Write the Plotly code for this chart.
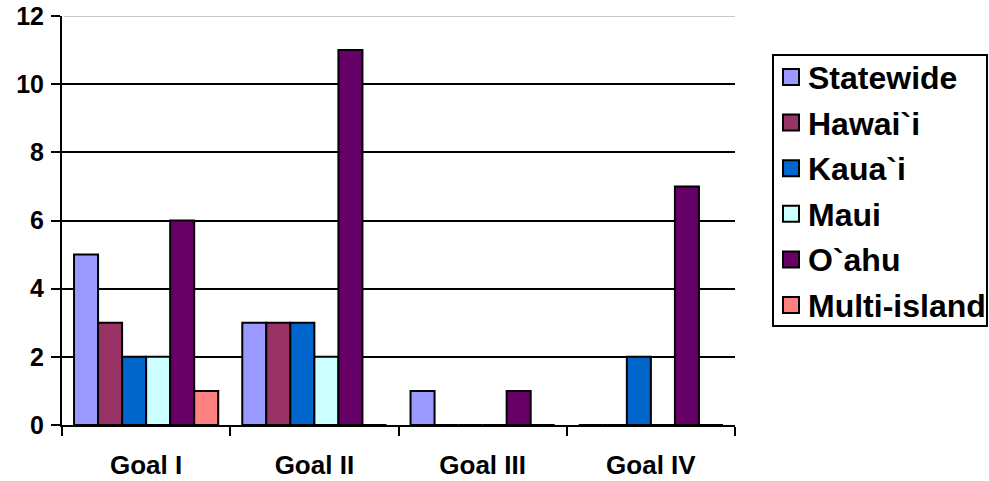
import plotly.graph_objects as go

goals = ["Goal I", "Goal II", "Goal III", "Goal IV"]
series_names = ["Statewide", "Hawai`i", "Kaua`i", "Maui", "O`ahu", "Multi-island"]
statewide = [5, 3, 1, 0]
hawaii = [3, 3, 0, 0]
kauai = [2, 3, 0, 2]
maui = [2, 2, 0, 0]
oahu = [6, 11, 1, 7]
multi_island = [1, 0, 0, 0]
y_ticks = [0, 2, 4, 6, 8, 10, 12]

series_values = [statewide, hawaii, kauai, maui, oahu, multi_island]
colors = ["#9999FF", "#993366", "#0066CC", "#CCFFFF", "#660066", "#FF8080"]

FONT = "Liberation Sans, Arial, sans-serif"

# plot area geometry in pixels
W, H = 989, 481
L, R, T, B = 62, 254, 16, 56
PW, PH = W - L - R, H - T - B


def px_x(px):
    return (px - L) / PW


def px_y(py):
    return (H - B - py) / PH


fig = go.Figure()
for name, vals, col in zip(series_names, series_values, colors):
    fig.add_trace(go.Bar(
        name=name, x=goals, y=vals, showlegend=False,
        marker=dict(color=col, line=dict(color="black", width=2)),
    ))

# boxed legend at the right
shapes = [dict(
    type="rect", xref="paper", yref="paper",
    x0=px_x(773), x1=px_x(987), y0=px_y(326), y1=px_y(55),
    line=dict(color="black", width=2), fillcolor="white", layer="above",
)]
annotations = []
row0, step = 77, 45.6
for i, (name, col) in enumerate(zip(series_names, colors)):
    cy = row0 + i * step
    shapes.append(dict(
        type="rect", xref="paper", yref="paper",
        x0=px_x(783), x1=px_x(799), y0=px_y(cy + 8), y1=px_y(cy - 8),
        line=dict(color="black", width=2), fillcolor=col, layer="above",
    ))
    annotations.append(dict(
        xref="paper", yref="paper", x=px_x(806), y=px_y(cy + 1),
        xanchor="left", yanchor="middle", showarrow=False, text=name,
        font=dict(family=FONT, size=32, color="black", weight="bold"),
    ))

# top gridline at 12 is drawn light grey
shapes.append(dict(
    type="line", xref="paper", yref="y", x0=0.003, x1=1, y0=12, y1=12,
    line=dict(color="#C8C8C8", width=2), layer="above",
))

fig.update_layout(
    width=W, height=H,
    margin=dict(l=L, r=R, t=T, b=B),
    paper_bgcolor="white", plot_bgcolor="white",
    barmode="group", bargap=0.143, bargroupgap=0,
    font=dict(family=FONT, color="black"),
    showlegend=False,
    xaxis=dict(
        showline=True, linecolor="black", linewidth=2,
        ticks="outside", tickson="boundaries", ticklen=9, tickwidth=2, tickcolor="black",
        tickfont=dict(family=FONT, size=26, color="black", weight="bold"),
        ticklabelstandoff=16, automargin=False,
        showgrid=False,
    ),
    yaxis=dict(
        range=[0, 12], tickvals=y_ticks,
        showline=True, linecolor="black", linewidth=2,
        ticks="outside", ticklen=9, tickwidth=2, tickcolor="black",
        tickfont=dict(family=FONT, size=25, color="black", weight="bold"),
        ticklabelstandoff=2, automargin=False,
        showgrid=True, gridcolor="black", gridwidth=2, zeroline=False,
    ),
    shapes=shapes,
    annotations=annotations,
)

fig.write_html("out.html")
